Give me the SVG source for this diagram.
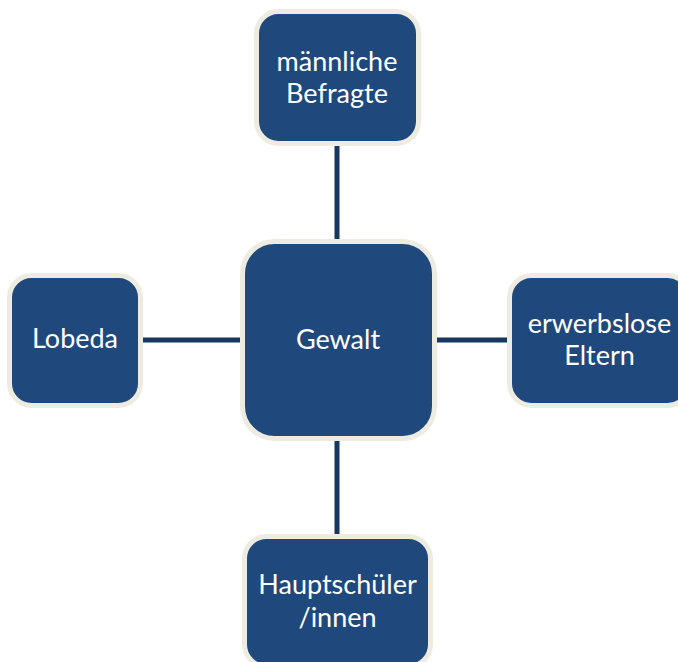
<svg xmlns="http://www.w3.org/2000/svg" width="678" height="662" viewBox="0 0 678 662">
<style>
.box{fill:#1F497D;stroke:#EEECE1;stroke-width:5}
.lbl{fill:#FFFFFF;font-family:Lato,"Open Sans",sans-serif;font-size:27px;text-anchor:middle}
.con{stroke:#17375E;stroke-width:5;fill:none}
</style>
<rect width="678" height="662" fill="#FFFFFF"/>
<g id="connectors">
<line class="con" x1="337" y1="146" x2="337" y2="240"/>
<line class="con" x1="337" y1="440" x2="337" y2="535"/>
<line class="con" x1="143" y1="340" x2="241" y2="340"/>
<line class="con" x1="436" y1="340" x2="508" y2="340"/>
</g>
<g id="node-gewalt">
<rect class="box" x="242.5" y="241.5" width="192" height="197" rx="32"/>
<text class="lbl" x="338" y="349">Gewalt</text>
</g>
<g id="node-maennliche">
<rect class="box" x="256.5" y="11.5" width="162" height="132" rx="22"/>
<text class="lbl" x="337" y="71">männliche</text>
<text class="lbl" x="337" y="103">Befragte</text>
</g>
<g id="node-erwerbslose">
<rect class="box" x="509.5" y="275.5" width="180" height="130" rx="22"/>
<text class="lbl" x="599.5" y="333">erwerbslose</text>
<text class="lbl" x="599.5" y="365">Eltern</text>
</g>
<g id="node-lobeda">
<rect class="box" x="9.5" y="275.5" width="131" height="130" rx="22"/>
<text class="lbl" x="75" y="348">Lobeda</text>
</g>
<g id="node-hauptschueler">
<rect class="box" x="244.5" y="536.5" width="186" height="130" rx="22"/>
<text class="lbl" x="337.5" y="594">Hauptschüler</text>
<text class="lbl" x="337.5" y="627">/innen</text>
</g>
</svg>
